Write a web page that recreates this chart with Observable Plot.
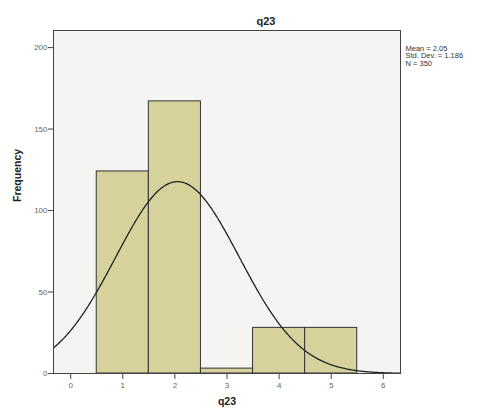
<!DOCTYPE html>
<html>
<head>
<meta charset="utf-8">
<script src="https://cdn.jsdelivr.net/npm/d3@7"></script>
<script src="https://cdn.jsdelivr.net/npm/@observablehq/plot@0.6"></script>
<style>
body{margin:0;background:#fff;font-family:"Liberation Sans",Arial,sans-serif;}
</style>
</head>
<body>
<div id="chart"></div>
<script>
const categories = [1, 2, 3, 4, 5];
const frequencies = [124, 167, 3, 28, 28];
const xTicks = [0, 1, 2, 3, 4, 5, 6];
const yTicks = [0, 50, 100, 150, 200];
const stats = {mean: 2.05, sd: 1.186, n: 350};
const legendLines = ["Mean = 2.05", "Std. Dev. = 1.186", "N = 350"];

const bars = categories.map((c, i) => ({x1: c - 0.5, x2: c + 0.5, y: frequencies[i]}));
// fitted normal curve defined by the chart's stated Mean, Std. Dev. and N (bin width 1)
const curve = d3.range(-0.33, 6.34, 0.02).map(x => ({
  x, y: stats.n / (stats.sd * Math.sqrt(2 * Math.PI)) * Math.exp(-0.5 * ((x - stats.mean) / stats.sd) ** 2)
}));

const chart = Plot.plot({
  width: 478, height: 412,
  marginLeft: 53, marginRight: 78, marginTop: 30, marginBottom: 39,
  style: {fontFamily: "Liberation Sans, Arial, sans-serif", background: "#fff", overflow: "visible"},
  x: {domain: [-0.33, 6.33]},
  y: {domain: [0, 210.5]},
  marks: [
    Plot.frame({fill: "#f4f4f2", stroke: "none"}),
    Plot.rectY(bars, {x1: "x1", x2: "x2", y: "y", fill: "#d5d29c", stroke: "#333", strokeWidth: 1}),
    Plot.line(curve, {x: "x", y: "y", stroke: "#222", strokeWidth: 1.3}),
    Plot.frame({stroke: "#444", strokeWidth: 1}),
    Plot.axisY({ticks: yTicks, tickSize: 5, fontSize: 8, fill: "#666", stroke: "#444", label: null, tickPadding: 1}),
    Plot.axisX({ticks: xTicks, tickFormat: d3.format("d"), tickSize: 6, fontSize: 8, fill: "#666", stroke: "#444", label: null, tickPadding: 3}),
    Plot.text(["Frequency"], {frameAnchor: "left", dx: -36, rotate: -90, fontSize: 10.5, fontWeight: "bold", fill: "#222"}),
    Plot.text(["q23"], {frameAnchor: "bottom", dy: 31, fontSize: 10.5, fontWeight: "bold", fill: "#222"}),
    Plot.text(["q23"], {frameAnchor: "top", dx: 39, dy: -13, fontSize: 11, fontWeight: "bold", fill: "#222"}),
    Plot.text([legendLines.join("\n")], {frameAnchor: "top-right", textAnchor: "start", lineAnchor: "top",
      dx: 5, dy: 15, lineHeight: 1.0, fontSize: 7.5, fill: "#333"})
  ]
});
document.getElementById("chart").appendChild(chart);
</script>
</body>
</html>
